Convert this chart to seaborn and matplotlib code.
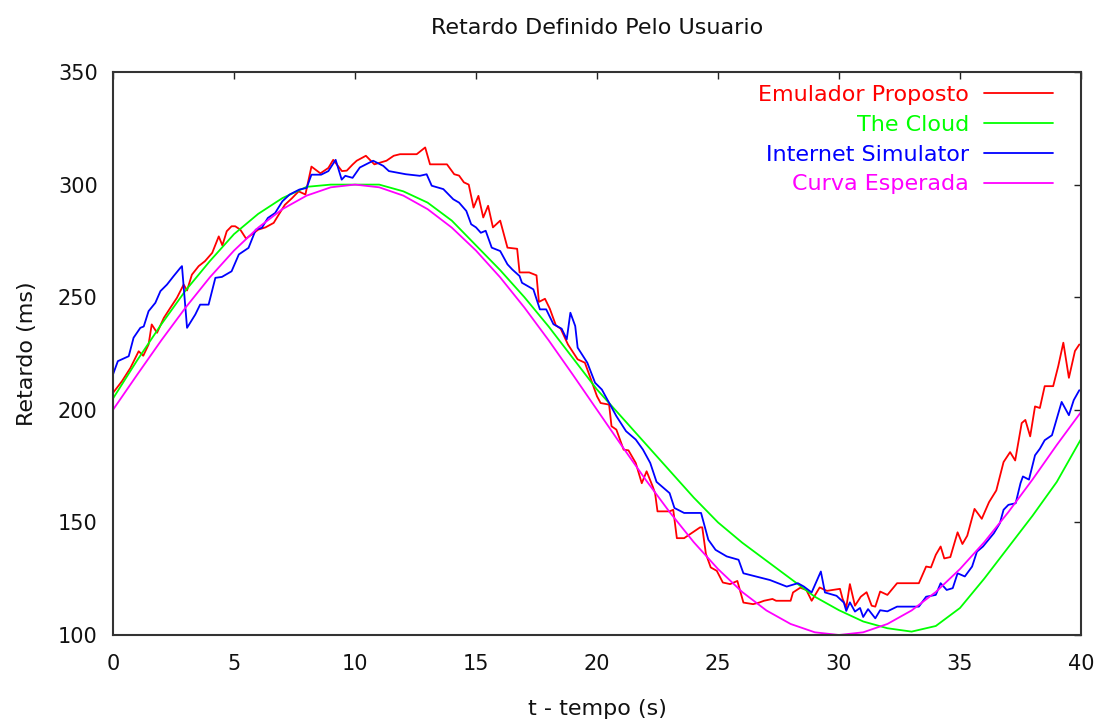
import numpy as np
import pandas as pd
import matplotlib
matplotlib.use("Agg")
import matplotlib.pyplot as plt
import seaborn as sns

# ---------------- data ----------------
t_int = list(range(0, 41))

curva_esperada = [200, 215.6, 230.9, 245.4, 258.8, 270.7, 280.9, 289.1, 295.1, 298.8,
                  300, 298.8, 295.1, 289.1, 280.9, 270.7, 258.8, 245.4, 230.9, 215.6,
                  200, 184.4, 169.1, 154.6, 141.2, 129.3, 119.1, 110.9, 104.9, 101.2,
                  100, 101.2, 104.9, 110.9, 119.1, 129.3, 141.2, 154.6, 169.1, 184.4, 199]

the_cloud = [205, 222, 238, 253, 266, 278, 287, 294, 299, 300,
             300, 300, 297, 292, 284, 273, 262, 250, 237, 223,
             209, 197, 185, 173, 161, 150, 141, 133, 125, 117,
             111, 106, 103, 101.5, 104, 112, 125, 139, 153, 168, 187]

emul_t = [0.0, 0.37, 0.72, 1.06, 1.25, 1.47, 1.6, 1.82, 2.1, 2.37, 2.64, 2.92, 3.06, 3.26,
          3.54, 3.8, 4.1, 4.37, 4.52, 4.7, 4.9, 5.05, 5.26, 5.5, 5.75, 6.0, 6.3, 6.64,
          6.85, 7.1, 7.4, 7.67, 7.95, 8.2, 8.57, 8.9, 9.1, 9.46, 9.66, 9.9, 10.07, 10.45,
          10.8, 11.3, 11.6, 11.86, 12.55, 12.9, 13.1, 13.8, 14.1, 14.3, 14.5, 14.7, 14.9,
          15.1, 15.3, 15.5, 15.7, 16.0, 16.3, 16.7, 16.8, 17.2, 17.5, 17.6, 17.85, 18.05,
          18.3, 18.5, 18.8, 19.2, 19.5, 19.7, 20.0, 20.15, 20.5, 20.6, 20.8, 21.1, 21.3,
          21.6, 21.85, 22.05, 22.3, 22.4, 22.5, 23.0, 23.15, 23.3, 23.6, 24.26, 24.35,
          24.5, 24.7, 24.95, 25.2, 25.5, 25.8, 26.05, 26.45, 26.7, 26.9, 27.25, 27.4,
          28.0, 28.1, 28.4, 28.65, 28.87, 29.08, 29.2, 29.5, 30.04, 30.15, 30.3, 30.45,
          30.66, 30.9, 31.14, 31.35, 31.5, 31.7, 32.0, 32.4, 33.3, 33.6, 33.8, 34.0,
          34.2, 34.35, 34.6, 34.9, 35.1, 35.3, 35.6, 35.9, 36.2, 36.5, 36.8, 37.07,
          37.28, 37.55, 37.7, 37.9, 38.1, 38.3, 38.5, 38.85, 39.06, 39.27, 39.5, 39.75,
          39.93]
emul_v = [207.5, 212.7, 218.6, 226, 224, 229, 237.9, 234.2, 240.8, 245.3, 249.7, 255.6,
          253, 260, 263.8, 266, 269.7, 277, 273, 279.3, 281.5, 281.5, 280, 276, 278, 280,
          281, 283, 286.7, 291, 294, 297, 295.6, 308, 305, 307.4, 311, 306, 306.2, 308.9,
          310.6, 312.8, 309, 310.6, 312.8, 313.5, 313.5, 316.5, 309, 309, 304.6, 304, 301,
          300, 289.8, 295, 285.4, 290.6, 281, 284, 272, 271.5, 261, 261, 259.7, 247.9,
          249.3, 244.9, 237.5, 236, 229, 222.4, 220.9, 215, 206, 203, 202.3, 192.7, 191.2,
          182.3, 182, 176.4, 167.4, 172.7, 166, 163, 154.9, 154.9, 155.6, 143, 143, 147.8,
          147.8, 136, 130, 128.5, 123.3, 122.6, 124, 114.4, 113.7, 114.4, 115.2, 116,
          115.2, 115.2, 118.9, 121, 120, 115.2, 118.9, 121.1, 119.6, 120.5, 116, 112.2,
          122.6, 113, 117, 119, 113, 112.6, 119.3, 117.8, 123, 123, 130.4, 130, 135.6,
          139.3, 134, 134.6, 145.6, 140.4, 144.1, 156, 151.6, 159, 164.2, 176.8, 181.2,
          177.5, 194.1, 195.5, 188.2, 201.5, 200.8, 210.5, 210.5, 219.4, 229.8, 214.2,
          226.1, 229]

inet_t = [0.0, 0.2, 0.65, 0.85, 1.13, 1.27, 1.47, 1.75, 1.96, 2.23, 2.5, 2.78, 2.85, 3.06,
          3.4, 3.6, 3.95, 4.23, 4.5, 4.9, 5.2, 5.6, 5.9, 6.15, 6.4, 6.7, 7.0, 7.3, 7.7,
          8.0, 8.2, 8.6, 8.9, 9.2, 9.45, 9.6, 9.9, 10.2, 10.75, 11.17, 11.4, 12.1, 12.68,
          12.96, 13.17, 13.65, 14.06, 14.3, 14.6, 14.8, 15.0, 15.2, 15.4, 15.65, 16.0,
          16.3, 16.5, 16.8, 16.9, 17.37, 17.64, 17.9, 18.2, 18.54, 18.75, 18.9, 19.1,
          19.2, 19.6, 19.92, 20.2, 20.5, 20.8, 21.2, 21.6, 21.9, 22.2, 22.46, 23.0, 23.2,
          23.6, 24.3, 24.6, 24.9, 25.36, 25.85, 26.05, 26.6, 27.15, 27.84, 28.3, 28.55,
          28.87, 29.08, 29.25, 29.42, 29.9, 30.2, 30.3, 30.45, 30.66, 30.87, 31.0, 31.2,
          31.5, 31.7, 32.0, 32.4, 33.3, 33.6, 34.0, 34.2, 34.45, 34.7, 34.9, 35.2, 35.5,
          35.7, 35.95, 36.4, 36.65, 36.8, 37.0, 37.3, 37.5, 37.6, 37.85, 38.1, 38.3, 38.5,
          38.8, 39.0, 39.2, 39.5, 39.7, 39.93]
inet_v = [215.7, 221.6, 223.8, 232, 236.4, 237, 243.8, 247.5, 252.7, 255.6, 259.3, 263,
          263.8, 236.4, 242.3, 246.7, 246.7, 258.6, 259, 261.5, 269, 271.9, 280, 280.8,
          285.2, 287.4, 292.6, 295.6, 297.8, 298.5, 304.4, 304.4, 306, 311, 302.2, 303.9,
          303, 307.6, 310.6, 308.3, 306, 304.6, 303.9, 304.6, 299.5, 298, 293.5, 292,
          288.3, 282.4, 281, 278.6, 279.5, 272, 270.5, 264.6, 262.3, 259.4, 256.4, 253.5,
          244.6, 244.6, 238, 236, 231.3, 243.1, 237.2, 227.6, 220.9, 212, 209, 203.1,
          197.2, 190.5, 186.8, 182.3, 176.4, 168, 163, 156.4, 154.2, 154.2, 142.3, 137.8,
          134.9, 133.4, 127.4, 125.9, 124.4, 121.5, 123, 121.5, 118.9, 124, 128.2, 118.9,
          117.4, 114.4, 110.7, 114.5, 110.4, 112, 108, 111.5, 107.4, 111, 110.5, 112.6,
          112.6, 117, 117.8, 123, 120, 120.8, 127.4, 126, 130.4, 137, 139.3, 145.2, 149.7,
          155.6, 157.8, 158.5, 167.4, 170.4, 169, 179.8, 182.7, 186.5, 188.7, 196.1, 203.5,
          197.6, 204.3, 208.7]

labels = ["Emulador Proposto", "The Cloud", "Internet Simulator", "Curva Esperada"]
colors = ["#ff0000", "#00ff00", "#0000ff", "#ff00ff"]

x_ticks = [0, 5, 10, 15, 20, 25, 30, 35, 40]
y_ticks = [100, 150, 200, 250, 300, 350]

# ---------------- plot ----------------
sns.set_style("white")
plt.rcParams['font.family'] = ['DejaVu Sans']

fig = plt.figure(figsize=(10.98, 7.22), dpi=100)
ax = fig.add_axes([113/1098, 1 - 635/722, (1081 - 113)/1098, (635 - 72)/722])

series = [
    (emul_t, emul_v),
    (t_int, the_cloud),
    (inet_t, inet_v),
    (t_int, curva_esperada),
]
for (xs, ys), lab, col in zip(series, labels, colors):
    df = pd.DataFrame({"t": xs, "v": ys})
    sns.lineplot(data=df, x="t", y="v", ax=ax, color=col, label=lab,
                 linewidth=1.3, sort=False, estimator=None)

ax.set_xlim(0, 40)
ax.set_ylim(100, 350)
ax.set_xticks(x_ticks)
ax.set_yticks(y_ticks)
ax.tick_params(direction="in", length=5, width=1, top=True, right=True,
               labelsize=15, colors="#222222", labelcolor="#111111")
ax.tick_params(axis="x", pad=14)
ax.tick_params(axis="y", pad=11)
for s in ax.spines.values():
    s.set_linewidth(1.5)
    s.set_color("#333333")

ax.set_title("Retardo Definido Pelo Usuario", fontsize=16, pad=27, color="#111111")
ax.set_xlabel("t - tempo (s)", fontsize=16, labelpad=18, color="#111111")
ax.set_ylabel("Retardo (ms)", fontsize=16, labelpad=15, color="#111111")

leg = ax.legend(loc="upper right", bbox_to_anchor=(0.971, 0.977),
                markerfirst=False, frameon=False, borderpad=0, borderaxespad=0,
                labelcolor="linecolor", fontsize=16, handlelength=3.1,
                handletextpad=0.68, labelspacing=0.44)

fig.savefig("out.png", dpi=100)
